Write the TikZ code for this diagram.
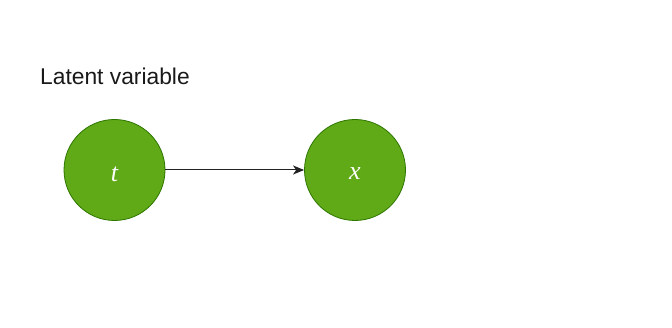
\documentclass[tikz,border=0pt]{standalone}
\usepackage{fontspec}
\setmainfont{Liberation Sans}
\newfontfamily\varfont{Liberation Serif}
\usetikzlibrary{arrows.meta}
\definecolor{nodefill}{HTML}{60A917}
\definecolor{nodeline}{HTML}{2D7600}
\definecolor{edgecol}{HTML}{222222}
\newcommand{\varlabel}[1]{\raisebox{-4pt}[\height][\depth]{#1}}
\tikzset{
  varnode/.style={circle, draw=nodeline, fill=nodefill, line width=0.8pt,
    minimum size=101pt, inner sep=0pt, text=white,
    font=\varfont\itshape\fontsize{26}{26}\selectfont},
  edge/.style={draw=edgecol, line width=1pt,
    -{Stealth[length=11pt, width=9pt, inset=3pt]}},
  caption/.style={anchor=base west, inner sep=0pt,
    font=\fontsize{22.8}{24}\selectfont, text=black!90}
}
\begin{document}
\begin{tikzpicture}[x=1pt, y=-1pt]
  \useasboundingbox (0,0) rectangle (672,328);
  \node[caption] (lbl) at (40,85) {Latent variable};
  \node[varnode] (t) at (114.5,170) {\varlabel{t}};
  \node[varnode] (x) at (355,170) {\varlabel{x}};
  \draw[edge] (t) -- (x);
\end{tikzpicture}
\end{document}
